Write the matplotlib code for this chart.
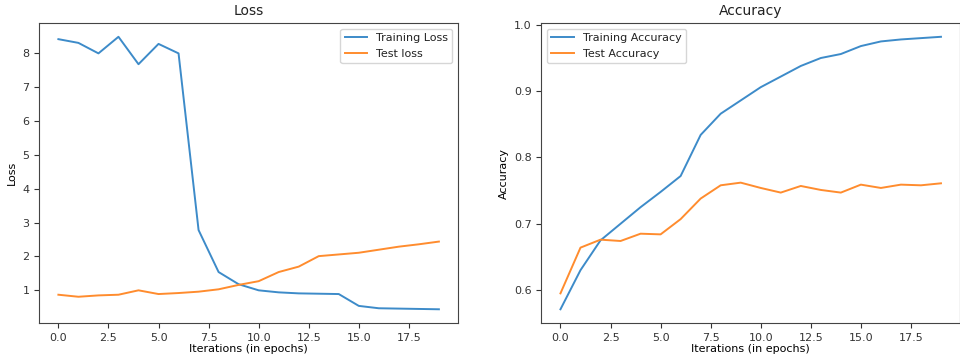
import numpy as np
import matplotlib.pyplot as plt

epochs = list(range(20))

train_loss = [8.42, 8.31, 8.00, 8.49, 7.68, 8.28, 8.00, 2.78, 1.54, 1.18,
              1.00, 0.94, 0.91, 0.90, 0.89, 0.54, 0.47, 0.46, 0.45, 0.44]
test_loss = [0.87, 0.81, 0.85, 0.87, 1.00, 0.89, 0.92, 0.96, 1.03, 1.16,
             1.27, 1.54, 1.70, 2.01, 2.06, 2.11, 2.20, 2.29, 2.36, 2.44]

train_acc = [0.571, 0.630, 0.675, 0.700, 0.725, 0.748, 0.772, 0.834, 0.866, 0.886,
             0.906, 0.922, 0.938, 0.950, 0.956, 0.968, 0.975, 0.978, 0.980, 0.982]
test_acc = [0.595, 0.664, 0.676, 0.674, 0.685, 0.684, 0.707, 0.738, 0.758, 0.762,
            0.754, 0.747, 0.757, 0.751, 0.747, 0.759, 0.754, 0.759, 0.758, 0.761]

plt.rcParams['font.size'] = 8
plt.rcParams['lines.linewidth'] = 1.4
plt.rcParams['axes.edgecolor'] = '#444444'
plt.rcParams['text.color'] = '#222222'
plt.rcParams['xtick.color'] = '#333333'
plt.rcParams['ytick.color'] = '#333333'

blue = '#3d8bc9'
orange = '#ff8c2e'

fig = plt.figure(figsize=(9.6, 3.62), dpi=100)
ax1 = fig.add_axes([0.041, 0.108, 0.436, 0.828])
ax2 = fig.add_axes([0.564, 0.108, 0.436, 0.828])

ax1.plot(epochs, train_loss, color=blue, label='Training Loss')
ax1.plot(epochs, test_loss, color=orange, label='Test loss')
ax1.set_title('Loss', fontsize=10)
ax1.set_xlabel('Iterations (in epochs)', labelpad=1)
ax1.set_ylabel('Loss')
ax1.legend(loc='upper right')

ax2.plot(epochs, train_acc, color=blue, label='Training Accuracy')
ax2.plot(epochs, test_acc, color=orange, label='Test Accuracy')
ax2.set_title('Accuracy', fontsize=10)
ax2.set_xlabel('Iterations (in epochs)', labelpad=1)
ax2.set_ylabel('Accuracy')
ax2.legend(loc='upper left')

fig.savefig('out.png', dpi=100)
